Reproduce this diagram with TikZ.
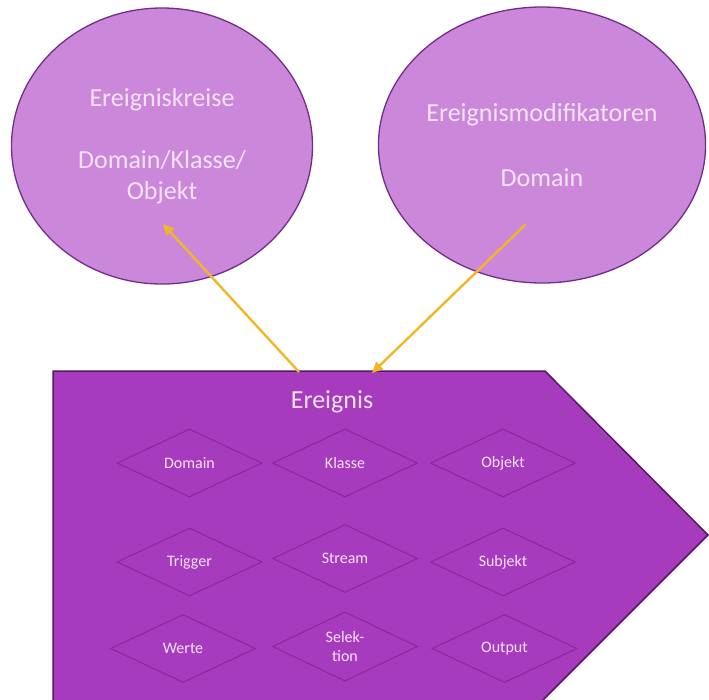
\documentclass[tikz,border=0pt]{standalone}
\usepackage{fontspec}
\setmainfont{Carlito}
\usetikzlibrary{shapes.geometric,arrows.meta}
\definecolor{circfill}{RGB}{203,136,218}
\definecolor{circline}{RGB}{112,46,138}
\definecolor{evfill}{RGB}{167,59,190}
\definecolor{evline}{RGB}{86,24,100}
\definecolor{dialine}{RGB}{136,40,156}
\definecolor{lighttext}{RGB}{246,226,248}
\definecolor{arrowgold}{RGB}{240,184,36}
\begin{document}
\begin{tikzpicture}[x=1pt,y=-1pt,
  bubble/.style={ellipse, draw=circline, line width=1.3pt, fill=circfill,
    minimum width=301pt, minimum height=276pt, inner sep=0pt,
    text=lighttext, align=center, font=\fontsize{26}{31}\selectfont},
  attr/.style={diamond, draw=dialine, line width=1pt, fill=evfill,
    minimum width=145pt, minimum height=68pt, inner sep=0pt,
    text=lighttext, align=center, font=\fontsize{16}{19.5}\selectfont},
  title/.style={text=lighttext, font=\fontsize{26}{31}\selectfont, inner sep=0pt},
  link/.style={draw=arrowgold, line width=2.4pt, -{Triangle[length=11pt,width=10pt]}}]
\useasboundingbox (0,0) rectangle (709,699);

% event pentagon, running off the lower edge
\begin{scope}
  \clip (0,0) rectangle (709,699);
  \draw[fill=evfill, draw=evline, line width=1.5pt]
    (53,720) -- (53,371) -- (545,371) -- (708,535) -- (523,720);
\end{scope}

% the two bubbles
\node[bubble] (kreise) at (162,146) {Ereigniskreise\\[31pt]Domain/Klasse/\\Objekt};
\node[bubble] (modif) at (542,145) {Ereignismodifikatoren\\[34pt]Domain};

% event title and its attributes
\node[title, anchor=base] (ereignis) at (332,408) {Ereignis};

\node[attr] (domain) at (189.5,463) {Domain};
\node[attr] (klasse) at (345,463) {Klasse};
\node[attr] (objekt) at (503,463) {Objekt};
\node[attr] (trigger) at (189.5,562) {Trigger};
\node[attr] (stream) at (345,558.5) {Stream};
\node[attr] (subjekt) at (503,562) {Subjekt};
\node[attr] (werte) at (183,648.5) {Werte};
\node[attr] (selektion) at (345,646.5) {Selek-\\tion};
\node[attr] (output) at (504.5,648.5) {Output};

% connectors between event and bubbles
\coordinate (kreisein) at (163,224);
\coordinate (evleft) at (299,372);
\coordinate (modout) at (526,224);
\coordinate (evright) at (372,373);
\draw[link] (evleft) -- (kreisein);
\draw[link] (modout) -- (evright);
\end{tikzpicture}
\end{document}
